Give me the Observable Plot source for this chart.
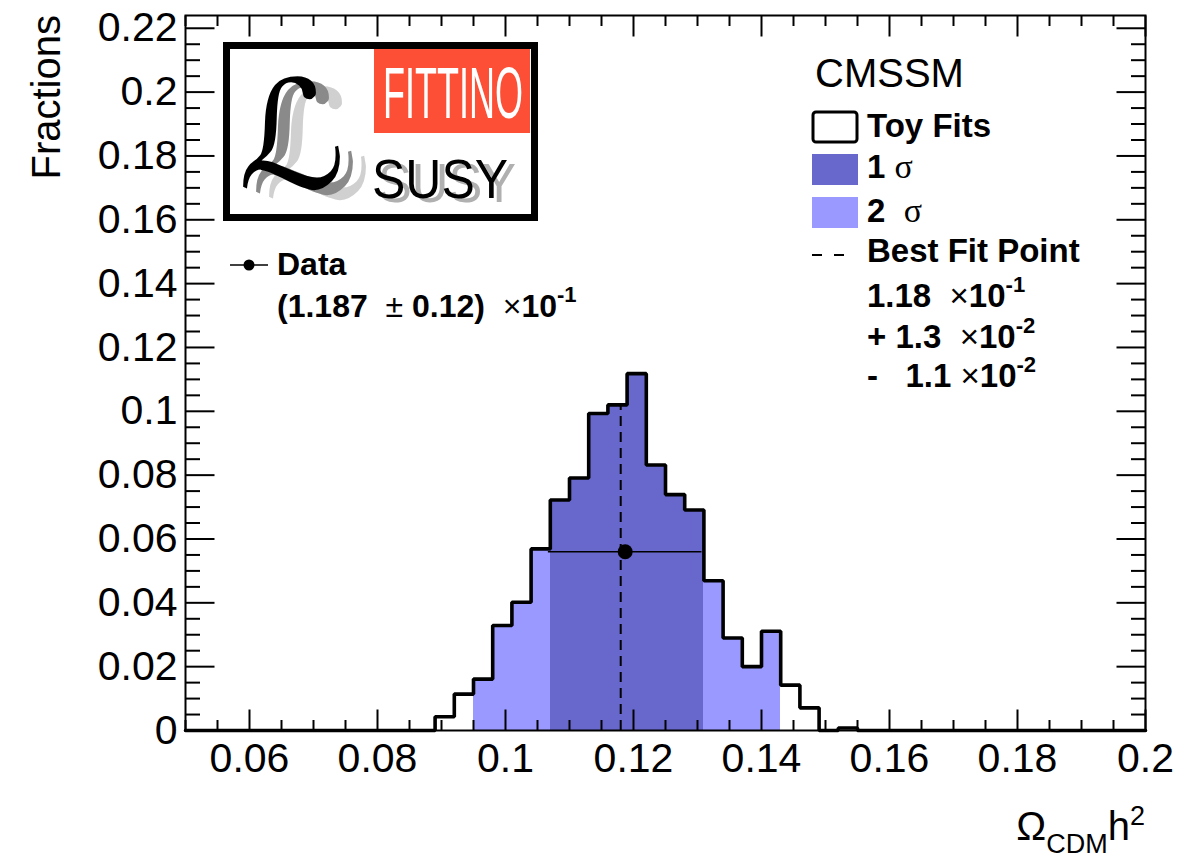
<!DOCTYPE html>
<html><head><meta charset="utf-8">
<script src="https://cdn.jsdelivr.net/npm/d3@7"></script>
<script src="https://cdn.jsdelivr.net/npm/@observablehq/plot@0.6"></script>
<style>body{margin:0;background:#fff;overflow:hidden} svg{display:block}</style>
</head><body><div id="chart"></div>
<script>
// ---- data ----
const binStart = [0.089,0.092,0.095,0.098,0.101,0.104,0.107,0.110,0.113,0.116,0.119,0.122,0.125,0.128,0.131,0.134,0.137,0.140,0.143,0.146,0.149,0.152];
const fraction = [0.0043,0.0114,0.0161,0.0329,0.0402,0.0569,0.0722,0.0791,0.0993,0.1020,0.1118,0.0832,0.0739,0.0691,0.0469,0.0290,0.0200,0.0311,0.0142,0.0071,0,0.0008];
const binWidth = 0.003;
const histRange = [0.05, 0.2];
const sigma1Range = [0.107, 0.131];
const sigma2Range = [0.095, 0.143];
const bestFit = 0.118;
const dataValue = 0.1187, dataError = 0.012, dataMarkerY = 0.056;
const xMajor = [0.06,0.08,0.10,0.12,0.14,0.16,0.18,0.20];
const xTickLabels = ["0.06","0.08","0.1","0.12","0.14","0.16","0.18","0.2"];
const xMinor = [0.05,0.055,0.065,0.07,0.075,0.085,0.09,0.095,0.105,0.11,0.115,0.125,0.13,0.135,0.145,0.15,0.155,0.165,0.17,0.175,0.185,0.19,0.195];
const yMajor = [0,0.02,0.04,0.06,0.08,0.10,0.12,0.14,0.16,0.18,0.20,0.22];
const yTickLabels = ["0","0.02","0.04","0.06","0.08","0.1","0.12","0.14","0.16","0.18","0.2","0.22"];
const yMinor = [0.005,0.01,0.015,0.025,0.03,0.035,0.045,0.05,0.055,0.065,0.07,0.075,0.085,0.09,0.095,0.105,0.11,0.115,0.125,0.13,0.135,0.145,0.15,0.155,0.165,0.17,0.175,0.185,0.19,0.195,0.205,0.21,0.215];
const colors = {sigma1:"#6868cc", sigma2:"#9999ff"};
const FONT = "'Liberation Sans', Arial, Helvetica, sans-serif";

// ---- derived tables ----
const bins = binStart.map((x, i) => ({x1: x, x2: +(x + binWidth).toFixed(4), y: fraction[i]}));
const band = b => (b.x1 >= sigma1Range[0] - 1e-9 && b.x2 <= sigma1Range[1] + 1e-9) ? "s1"
  : (b.x1 >= sigma2Range[0] - 1e-9 && b.x2 <= sigma2Range[1] + 1e-9) ? "s2" : null;
const filled = bins.filter(b => band(b)).map(b => ({...b, band: band(b)}));
const stepPts = [{x: histRange[0], y: 0}, ...bins.map(b => ({x: b.x1, y: b.y})),
  {x: bins[bins.length-1].x2, y: 0}, {x: histRange[1], y: 0}];
const bestFitTop = bins.find(b => b.x1 <= bestFit && b.x2 > bestFit).y;

// layout
const W = 1178, H = 859, ML = 185, MR = 33, MT = 15, MB = 129;
const FW = W - ML - MR, FH = H - MT - MB;
const YDOM = [0, 0.224], XDOM = histRange;
// tick lengths in pixels converted to data units for link marks
const XMAJ = 21, XMIN = 10.5, YMAJ = 29, YMIN = 14.5;
const dy = px => px / FH * (YDOM[1] - YDOM[0]);
const dx = px => px / FW * (XDOM[1] - XDOM[0]);
const xTicks = [...xMajor.map(v => ({v, l: XMAJ})), ...xMinor.map(v => ({v, l: XMIN}))];
const yTicks = [...yMajor.map(v => ({v, l: YMAJ})), ...yMinor.map(v => ({v, l: YMIN}))];
const tk = {stroke: "#000", strokeWidth: 2};
const plot = Plot.plot({
  width: W, height: H,
  marginLeft: ML, marginRight: MR, marginTop: MT, marginBottom: MB,
  style: {fontFamily: FONT, background: "white", color: "black"},
  x: {domain: XDOM, label: null},
  y: {domain: YDOM, label: null},
  color: {domain: ["s1", "s2"], range: [colors.sigma1, colors.sigma2]},
  marks: [
    Plot.rectY(filled, {x1: "x1", x2: "x2", y: "y", fill: "band", shapeRendering: "crispEdges"}),
    Plot.ruleX([bestFit], {y1: 0, y2: bestFitTop, stroke: "black", strokeWidth: 2, strokeDasharray: "10,6"}),
    Plot.ruleY([dataMarkerY], {x1: dataValue - dataError, x2: dataValue + dataError, stroke: "black", strokeWidth: 1.5}),
    Plot.dot([{x: dataValue, y: dataMarkerY}], {x: "x", y: "y", r: 7.5, fill: "black", stroke: "none"}),
    // inward ticks on all four sides
    Plot.link(xTicks, {x1: "v", x2: "v", y1: YDOM[0], y2: d => YDOM[0] + dy(d.l), ...tk}),
    Plot.link(xTicks, {x1: "v", x2: "v", y1: YDOM[1], y2: d => YDOM[1] - dy(d.l), ...tk}),
    Plot.link(yTicks, {y1: "v", y2: "v", x1: XDOM[0], x2: d => XDOM[0] + dx(d.l), ...tk}),
    Plot.link(yTicks, {y1: "v", y2: "v", x1: XDOM[1], x2: d => XDOM[1] - dx(d.l), ...tk}),
    Plot.line(stepPts, {x: "x", y: "y", curve: "step-after", stroke: "black", strokeWidth: 3.6, strokeLinejoin: "miter"}),
    Plot.axisX({anchor: "bottom", ticks: xMajor, tickSize: 0, tickPadding: 12, fontSize: 41,
      tickFormat: d => xTickLabels[xMajor.findIndex(v => Math.abs(v - d) < 1e-9)]}),
    Plot.axisY({anchor: "left", ticks: yMajor, tickSize: 0, tickPadding: 8, fontSize: 41,
      tickFormat: d => yTickLabels[yMajor.findIndex(v => Math.abs(v - d) < 1e-9)]}),
    Plot.frame({stroke: "black", strokeWidth: 2})
  ]
});
document.getElementById("chart").appendChild(plot);

const svg = d3.select(plot);
// ---- annotations ----
function richText(x, y, parts, o = {}) {
  const t = svg.append("text").attr("x", x).attr("y", y)
    .attr("font-family", o.family || FONT).attr("font-size", o.size || 33)
    .attr("fill", o.fill || "black").attr("font-weight", o.weight || "normal")
    .attr("text-anchor", o.anchor || "start");
  if (o.transform) t.attr("transform", o.transform);
  for (const p of parts) {
    const s = t.append("tspan").text(p.t);
    if (p.w) s.attr("font-weight", p.w);
    if (p.size) s.attr("font-size", p.size);
    if (p.family) s.attr("font-family", p.family);
    if (p.dy) s.attr("dy", p.dy);
    if (p.dx) s.attr("dx", p.dx);
  }
  return t;
}
// axis titles
richText(1145, 840, [{t: "Ω"}, {t: "CDM", size: 27, dy: 13}, {t: "h", dy: -13}, {t: "2", size: 27, dy: -15}], {size: 40, anchor: "end"});
richText(0, 0, [{t: "Fractions"}], {size: 40, anchor: "end", transform: "translate(60,15) rotate(-90)"});

// legend (right)
richText(815, 87, [{t: "CMSSM"}], {size: 40});
svg.append("rect").attr("x", 813).attr("y", 112).attr("width", 44).attr("height", 30).attr("rx", 3)
  .attr("fill", "white").attr("stroke", "black").attr("stroke-width", 3);
svg.append("rect").attr("x", 812).attr("y", 154).attr("width", 46).attr("height", 31).attr("fill", colors.sigma1);
svg.append("rect").attr("x", 812).attr("y", 197).attr("width", 46).attr("height", 31).attr("fill", colors.sigma2);
svg.append("line").attr("x1", 812).attr("x2", 846).attr("y1", 255).attr("y2", 255)
  .attr("stroke", "black").attr("stroke-width", 2).attr("stroke-dasharray", "10,12");
const SERIF = "'Liberation Serif', 'Times New Roman', serif";
richText(867, 137, [{t: "Toy Fits"}], {weight: "bold"});
richText(867, 178, [{t: "1\u00a0", w: "bold"}, {t: "σ", family: SERIF, size: 34}]);
richText(867, 222, [{t: "2\u00a0\u00a0", w: "bold"}, {t: "σ", family: SERIF, size: 34}]);
richText(867, 262, [{t: "Best Fit Point"}], {weight: "bold"});
const sup = (s) => ({t: s, size: 22, dy: -15, w: "bold"});
richText(867, 307, [{t: "1.18\u00a0\u00a0", w: "bold"}, {t: "×"}, {t: "10", w: "bold"}, sup("-1")]);
richText(867, 348, [{t: "+ 1.3\u00a0\u00a0", w: "bold"}, {t: "×"}, {t: "10", w: "bold"}, sup("-2")]);
richText(867, 387, [{t: "-\u00a0\u00a0 1.1\u00a0", w: "bold"}, {t: "×"}, {t: "10", w: "bold"}, sup("-2")]);

// data legend (left)
svg.append("line").attr("x1", 230).attr("x2", 268).attr("y1", 265).attr("y2", 265).attr("stroke", "black").attr("stroke-width", 1.5);
svg.append("circle").attr("cx", 249).attr("cy", 265).attr("r", 5.5).attr("fill", "black");
richText(277, 275, [{t: "Data"}], {weight: "bold", size: 32});
richText(277, 317, [{t: "(1.187\u00a0 ", w: "bold"}, {t: "±"}, {t: " 0.12)\u00a0 ", w: "bold"}, {t: "×"}, {t: "10", w: "bold"}, sup("-1")], {size: 32});

// logo
const logo = svg.append("g").attr("text-anchor", "start");
logo.append("rect").attr("x", 226.5).attr("y", 45.5).attr("width", 308).attr("height", 172)
  .attr("fill", "white").attr("stroke", "black").attr("stroke-width", 7);
logo.append("rect").attr("x", 374).attr("y", 49).attr("width", 156).attr("height", 84).attr("fill", "#fc4f35");
logo.append("text").attr("x", 383).attr("y", 118).attr("font-family", FONT).attr("font-size", 72)
  .attr("fill", "white").attr("textLength", 140).attr("lengthAdjust", "spacingAndGlyphs").text("FITTINO");
logo.append("text").attr("x", 378).attr("y", 202).attr("font-family", FONT).attr("font-size", 56)
  .attr("fill", "#b0b0b0").attr("textLength", 138).attr("lengthAdjust", "spacingAndGlyphs").text("SUSY");
logo.append("text").attr("x", 372).attr("y", 198).attr("font-family", FONT).attr("font-size", 56)
  .attr("fill", "black").attr("textLength", 136).attr("lengthAdjust", "spacingAndGlyphs").text("SUSY");
const Lfont = "'DejaVu Serif', 'DejaVu Sans', serif";
[["#d0d0d0", 26, 10], ["#8a8a8a", 13, 5], ["black", 0, 0]].forEach(([c, ox, oy]) =>
  logo.append("text").attr("x", 238 + ox).attr("y", 188 + oy).attr("font-family", Lfont)
    .attr("font-style", "italic").attr("font-size", 150).attr("fill", c).text("ℒ"));
</script></body></html>
